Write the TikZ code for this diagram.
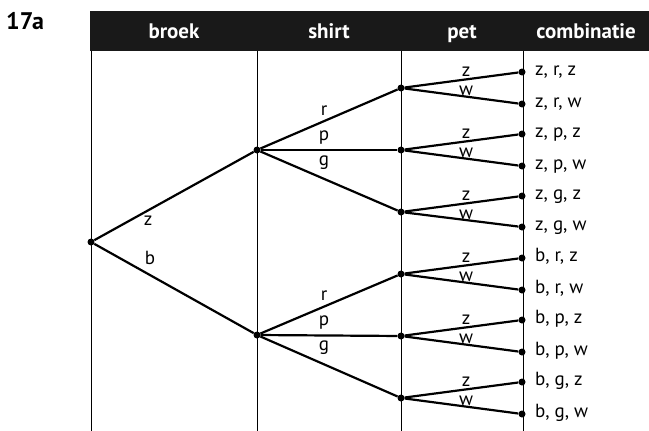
\documentclass[tikz,border=0pt]{standalone}
\usepackage{fontspec}
\setmainfont{PT Sans}
\begin{document}
\begin{tikzpicture}[x=1pt,y=-1pt,
  dot/.style={circle,fill=black,inner sep=0pt,minimum size=7pt},
  branch/.style={line width=2.2pt},
  column/.style={line width=0.8pt},
  head/.style={text=white,anchor=base,inner sep=0pt,font=\bfseries\fontsize{21}{24}\selectfont},
  lbl/.style={anchor=base,inner sep=0pt,font=\fontsize{19}{22}\selectfont},
  leaf/.style={anchor=base west,inner sep=0pt,font=\fontsize{19}{22}\selectfont}]
\useasboundingbox (0,0) rectangle (649,431);
% header bar
\fill[black!90] (90,11) rectangle (649,51);
\node[font=\bfseries\fontsize{24}{28}\selectfont,anchor=base west,inner sep=0pt] (nr) at (6,29) {17a};
\node[head] (h1) at (174,38) {broek};
\node[head] (h2) at (329,38) {shirt};
\node[head] (h3) at (462,38) {pet};
\node[head] (h4) at (586,38) {combinatie};
% column lines
\foreach \x in {91,257,401,523} \draw[column] (\x,51) -- (\x,431);
% nodes
\node[dot] (root) at (91,242) {};
\node[dot] (sz) at (257,150) {};
\node[dot] (sb) at (257,335) {};
\foreach \n/\y in {zr/88,zp/150,zg/212,br/274,bp/336,bg/398}
  \node[dot] (\n) at (401,\y) {};
\foreach \n/\y/\t in {zrz/72/{z, r, z},zrw/104/{z, r, w},zpz/134/{z, p, z},zpw/166/{z, p, w},
  zgz/196/{z, g, z},zgw/227/{z, g, w},brz/258/{b, r, z},brw/290/{b, r, w},
  bpz/320/{b, p, z},bpw/352/{b, p, w},bgz/382/{b, g, z},bgw/414/{b, g, w}}{
  \node[dot] (\n) at (522,\y) {};
  \node[leaf] at (535,\y+3) {\t};
}
% branches
\draw[branch] (root) -- (sz);
\draw[branch] (root) -- (sb);
\foreach \s/\c in {sz/z,sb/b}{
  \draw[branch] (\s) -- (\c r);
  \draw[branch] (\s) -- (\c p);
  \draw[branch] (\s) -- (\c g);
}
\foreach \p in {zr,zp,zg,br,bp,bg}{
  \draw[branch] (\p) -- (\p z);
  \draw[branch] (\p) -- (\p w);
}
% branch labels
\node[lbl] at (148,225) {z};
\node[lbl] at (150,264) {b};
\foreach \y in {150,335}{
  \node[lbl] at (324,\y-35) {r};
  \node[lbl] at (324,\y-10) {p};
  \node[lbl] at (324,\y+15) {g};
}
\foreach \y in {88,150,212,274,336,398}{
  \node[lbl] at (466,\y-11.5) {z};
  \node[lbl] at (466,\y+7) {w};
}
\end{tikzpicture}
\end{document}
